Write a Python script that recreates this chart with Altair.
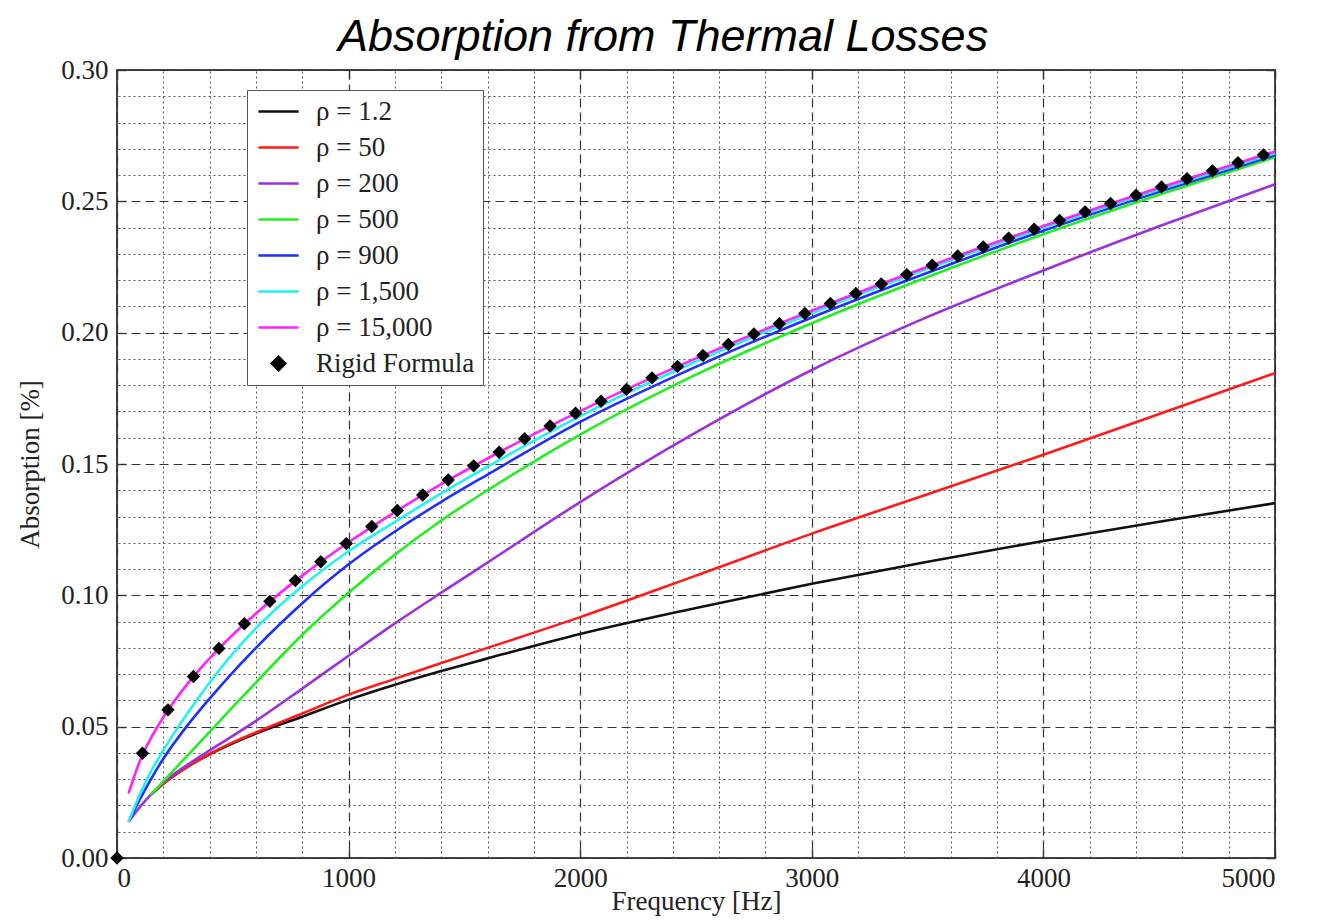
import altair as alt
import pandas as pd

# ---------------- data ----------------
series_names = ["ρ = 1.2", "ρ = 50", "ρ = 200", "ρ = 500", "ρ = 900", "ρ = 1,500", "ρ = 15,000"]
rigid_name = "Rigid Formula"
series_colors = ["#111111", "#ff1a1a", "#9b30dc", "#22ee22", "#1f2fff", "#22f2f2", "#ff22ff"]

freq_early = [50, 100, 150, 200, 300, 400, 500, 600, 800, 1000, 1200, 1400, 1600,
              2000, 2500, 3000, 3500, 4000, 4500, 5000]
freq_late = [145, 200, 300, 400, 500, 600, 800, 1000, 1200, 1400, 1600,
             2000, 2500, 3000, 3500, 4000, 4500, 5000]

rho_1_2 = [0.0240, 0.0283, 0.0345, 0.0395, 0.0437, 0.0474, 0.0538, 0.0603, 0.0660, 0.0712,
           0.0760, 0.0853, 0.0952, 0.1044, 0.1128, 0.1207, 0.1280, 0.1351]
rho_50 = [0.0240, 0.0283, 0.0345, 0.0396, 0.0440, 0.0478, 0.0550, 0.0622, 0.0682, 0.0742,
          0.0800, 0.0917, 0.1075, 0.1235, 0.1385, 0.1535, 0.1690, 0.1846]
rho_200 = [0.0138, 0.0195, 0.0245, 0.0288, 0.0352, 0.0410, 0.0465, 0.0522, 0.0645, 0.0770,
           0.0893, 0.1010, 0.1125, 0.1355, 0.1620, 0.1858, 0.2060, 0.2237, 0.2405, 0.2565]
rho_500 = [0.0240, 0.0292, 0.0386, 0.0480, 0.0575, 0.0668, 0.0850, 0.1010, 0.1155, 0.1285,
           0.1400, 0.1612, 0.1840, 0.2036, 0.2212, 0.2375, 0.2525, 0.2668]
rho_900 = [0.0138, 0.0225, 0.0305, 0.0378, 0.0500, 0.0607, 0.0707, 0.0800, 0.0970, 0.1118,
           0.1243, 0.1356, 0.1460, 0.1660, 0.1870, 0.2058, 0.2228, 0.2388, 0.2536, 0.2676]
rho_1500 = [0.0138, 0.0245, 0.0335, 0.0410, 0.0545, 0.0668, 0.0778, 0.0875, 0.1035, 0.1168,
            0.1280, 0.1388, 0.1490, 0.1682, 0.1890, 0.2074, 0.2243, 0.2399, 0.2545, 0.2683]
rho_15000 = [0.0246, 0.0372, 0.0462, 0.0536, 0.0658, 0.0760, 0.0850, 0.0931, 0.1075, 0.1202,
             0.1317, 0.1423, 0.1521, 0.1701, 0.1902, 0.2084, 0.2251, 0.2406, 0.2552, 0.2690]

rigid_freq = [0, 110, 220, 330, 440, 550, 660, 770, 880, 990, 1100, 1210, 1320, 1430, 1540,
              1650, 1760, 1870, 1980, 2090, 2200, 2310, 2420, 2530, 2640, 2750, 2860, 2970,
              3080, 3190, 3300, 3410, 3520, 3630, 3740, 3850, 3960, 4070, 4180, 4290, 4400,
              4510, 4620, 4730, 4840, 4950]
rigid_abs = [0.0, 0.0399, 0.0564, 0.0691, 0.0798, 0.0892, 0.0977, 0.1056, 0.1128, 0.1197,
             0.1262, 0.1323, 0.1382, 0.1439, 0.1493, 0.1545, 0.1596, 0.1645, 0.1693, 0.1739,
             0.1784, 0.1828, 0.1871, 0.1913, 0.1955, 0.1995, 0.2034, 0.2073, 0.2111, 0.2149,
             0.2185, 0.2221, 0.2257, 0.2292, 0.2326, 0.2360, 0.2394, 0.2427, 0.2460, 0.2492,
             0.2523, 0.2555, 0.2586, 0.2616, 0.2647, 0.2677]

x_major = [0, 1000, 2000, 3000, 4000, 5000]
y_major = [0.0, 0.05, 0.10, 0.15, 0.20, 0.25, 0.30]

# ---------------- tables ----------------
series_values = [rho_1_2, rho_50, rho_200, rho_500, rho_900, rho_1500, rho_15000]
series_freqs = [freq_late, freq_late, freq_early, freq_late, freq_early, freq_early, freq_early]
rows = []
for idx, (name, fr, vals) in enumerate(zip(series_names, series_freqs, series_values)):
    for f, v in zip(fr, vals):
        rows.append({"series": name, "order": idx, "freq": f, "absorption": v})
lines_df = pd.DataFrame(rows)
rigid_df = pd.DataFrame({"series": rigid_name, "freq": rigid_freq, "absorption": rigid_abs})

x_minor = [v for v in range(0, 5001, 200) if v % 1000 != 0]
y_minor = [round(i * 0.01, 2) for i in range(0, 31) if i % 5 != 0]

legend_domain = series_names + [rigid_name]
line_path = "M-3,0H3"

SERIF = "Liberation Serif"
TICK = 9

color_scale = alt.Scale(domain=legend_domain, range=series_colors + ["#000000"])
shape_scale = alt.Scale(domain=legend_domain, range=[line_path] * 7 + ["diamond"])
x_scale = alt.Scale(domain=[0, 5000], nice=False)
y_scale = alt.Scale(domain=[0, 0.3], nice=False)

legend = alt.Legend(
    orient="none", legendX=130, legendY=20, title=None,
    labelFont=SERIF, labelFontSize=27, labelColor="#222222", labelLimit=400,
    labelOffset=24, symbolOffset=10, padding=8, rowPadding=8,
    symbolSize=180, symbolStrokeWidth=2.6, strokeColor="#555555", fillColor="white",
)


def tick_axis(orient, values):
    return alt.Axis(orient=orient, values=values, labels=False, ticks=True,
                    tickSize=TICK, offset=-TICK, tickColor="#333333", tickWidth=1.4,
                    domain=False, grid=False, title=None)


# minor (dotted) grid layer
minor = alt.Chart(rigid_df).mark_point(opacity=0).encode(
    x=alt.X("freq:Q", scale=x_scale,
            axis=alt.Axis(orient="top", values=x_minor, labels=False, ticks=False,
                          domain=False, grid=True, gridDash=[2, 3], gridColor="#555555",
                          gridWidth=1, title=None)),
    y=alt.Y("absorption:Q", scale=y_scale,
            axis=alt.Axis(orient="right", values=y_minor, labels=False, ticks=False,
                          domain=False, grid=True, gridDash=[2, 3], gridColor="#555555",
                          gridWidth=1, title=None)),
)

# inward major ticks on the bottom / left frame
ticks_bl = alt.Chart(rigid_df).mark_point(opacity=0).encode(
    x=alt.X("freq:Q", scale=x_scale, axis=tick_axis("bottom", x_major)),
    y=alt.Y("absorption:Q", scale=y_scale, axis=tick_axis("left", y_major)),
)

lines = alt.Chart(lines_df).mark_line(strokeWidth=2.6, interpolate="monotone").encode(
    x=alt.X("freq:Q", scale=x_scale,
            axis=alt.Axis(orient="bottom", values=x_major, format="d",
                          labelFont=SERIF, labelFontSize=27, labelColor="#222222",
                          labelPadding=7, ticks=False, domain=False,
                          grid=True, gridDash=[9, 5], gridColor="#333333", gridWidth=1.2,
                          title="Frequency [Hz]", titleFont=SERIF, titleFontSize=27,
                          titleFontWeight="normal", titleColor="#222222",
                          titleY=51, titleBaseline="alphabetic")),
    y=alt.Y("absorption:Q", scale=y_scale,
            axis=alt.Axis(orient="left", values=y_major, format=".2f",
                          labelFont=SERIF, labelFontSize=27, labelColor="#222222",
                          labelPadding=9, ticks=False, domain=False,
                          grid=True, gridDash=[9, 5], gridColor="#333333", gridWidth=1.2,
                          title="Absorption [%]", titleFont=SERIF, titleFontSize=27,
                          titleFontWeight="normal", titleColor="#222222",
                          titleX=-79, titleY=394, titleAngle=270,
                          titleBaseline="alphabetic")),
    color=alt.Color("series:N", scale=color_scale, legend=legend),
    detail="order:O",
    order=alt.Order("freq:Q"),
)

points = alt.Chart(rigid_df).mark_point(filled=True, opacity=1, size=180).encode(
    x=alt.X("freq:Q", scale=x_scale, axis=tick_axis("top", x_major)),
    y=alt.Y("absorption:Q", scale=y_scale, axis=tick_axis("right", y_major)),
    color=alt.Color("series:N", scale=color_scale, legend=legend),
    shape=alt.Shape("series:N", scale=shape_scale, legend=legend),
)

chart = alt.layer(minor, ticks_bl, lines, points).resolve_axis(
    x="independent", y="independent"
).properties(
    width=1158, height=788,
    autosize=alt.AutoSizeParams(type="none"),
    padding={"left": 117, "top": 70, "right": 42, "bottom": 66},
    title=alt.TitleParams(
        "Absorption from Thermal Losses",
        font="Liberation Sans", fontSize=45, fontStyle="italic",
        fontWeight="normal", color="#000000", anchor="middle", dx=-33,
        offset=8, baseline="bottom", dy=57,
    ),
).configure_view(stroke="#444444", strokeWidth=2)

chart.save("out.html", embed_options={"renderer": "svg", "actions": False})
